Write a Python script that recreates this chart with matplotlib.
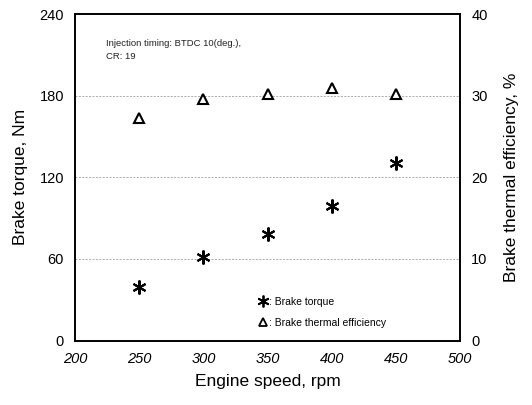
import matplotlib
matplotlib.use("Agg")
import matplotlib.pyplot as plt
from matplotlib.lines import Line2D

speed = [250, 300, 350, 400, 450]
torque = [39.6, 61.7, 78.2, 99.2, 130.5]
efficiency = [27.3, 29.6, 30.2, 30.9, 30.2]

x_ticks = [200, 250, 300, 350, 400, 450, 500]
torque_ticks = [0, 60, 120, 180, 240]
eff_ticks = [0, 10, 20, 30, 40]

plt.rcParams['font.family'] = ['Liberation Sans', 'DejaVu Sans']

fig = plt.figure(figsize=(5.32, 4.05), dpi=100)
ax = fig.add_axes([0.141, 0.159, 0.724, 0.806])
ax2 = ax.twinx()

ax.plot(speed, torque, linestyle="none", marker=(6, 2, 0), markersize=10,
	color="black", markeredgewidth=1.5)
ax2.plot(speed, efficiency, linestyle="none", marker="^", markersize=7.5,
	markerfacecolor="white", markeredgecolor="black", markeredgewidth=1.5)

ax.set_xlim(200, 500)
ax.set_ylim(0, 240)
ax2.set_ylim(0, 40)
ax.set_xticks(x_ticks)
ax.set_yticks(torque_ticks)
ax2.set_yticks(eff_ticks)
ax.set_xticklabels([str(v) for v in x_ticks], fontstyle="italic")

for a in (ax, ax2):
	a.tick_params(length=0, labelsize=10.5, pad=8)
	for s in a.spines.values():
		s.set_linewidth(1.2)

for v in [60, 120, 180]:
	ax.axhline(v, color="#aaaaaa", linestyle=(0, (2, 1.5)), linewidth=0.7, zorder=0)

ax.set_xlabel("Engine speed, rpm", fontsize=12.5, labelpad=6)
ax.set_ylabel("Brake torque, Nm", fontsize=12.5, labelpad=8)
ax2.set_ylabel("Brake thermal efficiency, %", fontsize=12.5, labelpad=12)

ax.text(0.08, 0.925, "Injection timing: BTDC 10(deg.),\nCR: 19", transform=ax.transAxes,
	fontsize=6.8, va="top", linespacing=1.6, color="#222222")

handles = [
	Line2D([], [], linestyle="none", marker=(6, 2, 0), markersize=8.5, color="black", markeredgewidth=1.3),
	Line2D([], [], linestyle="none", marker="^", markersize=6, markerfacecolor="white",
		markeredgecolor="black", markeredgewidth=1.3),
]
ax.legend(handles, [": Brake torque", ": Brake thermal efficiency"], loc="lower left",
	bbox_to_anchor=(0.45, 0.01), frameon=False, fontsize=7.5, handlelength=1,
	handletextpad=0.1, labelspacing=1.1)

fig.savefig("out.png", dpi=100)
